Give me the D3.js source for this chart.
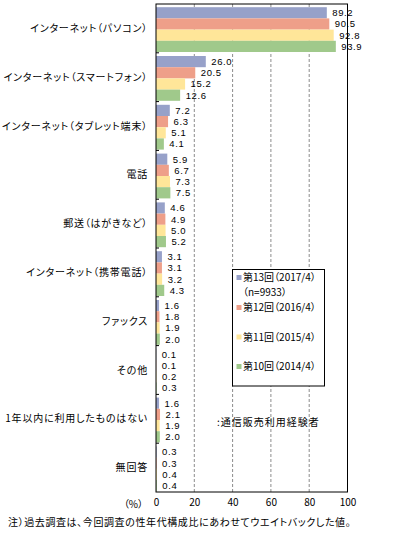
<!DOCTYPE html>
<html>
<head>
<meta charset="utf-8">
<script src="https://cdn.jsdelivr.net/npm/d3@7"></script>
<style>
  body { margin: 0; background: #fff; }
  svg text { font-family: "Noto Sans CJK JP", sans-serif; font-size: 10px; fill: #000; font-feature-settings: "palt"; }
  svg text.val { font-family: "Liberation Sans", Arial, sans-serif; font-size: 9.5px; letter-spacing: 0.6px; }
</style>
</head>
<body>
<div id="chart"></div>
<script>
const categories = [
  "インターネット（パソコン）",
  "インターネット（スマートフォン）",
  "インターネット（タブレット端末）",
  "電話",
  "郵送（はがきなど）",
  "インターネット（携帯電話）",
  "ファックス",
  "その他",
  "1年以内に利用したものはない",
  "無回答"
];
const seriesNames = ["第13回（2017/4）", "第12回（2016/4）", "第11回（2015/4）", "第10回（2014/4）"];
const seriesColors = ["#97a1c9", "#ee9f89", "#ffe699", "#a0c98b"];
const round13 = [89.2, 26.0, 7.2, 5.9, 4.6, 3.1, 1.6, 0.1, 1.6, 0.3];
const round12 = [90.5, 20.5, 6.3, 6.7, 4.9, 3.1, 1.8, 0.1, 2.1, 0.3];
const round11 = [92.8, 15.2, 5.1, 7.3, 5.0, 3.2, 1.9, 0.2, 1.9, 0.4];
const round10 = [93.9, 12.6, 4.1, 7.5, 5.2, 4.3, 2.0, 0.3, 2.0, 0.4];
const xTicks = [0, 20, 40, 60, 80, 100];

const seriesValues = [round13, round12, round11, round10];

const width = 398, height = 537;
const plot = { left: 156, right: 347.5, top: 4, bottom: 492 };

const svg = d3.select("#chart").append("svg")
  .attr("width", width)
  .attr("height", height);

const x = d3.scaleLinear().domain([0, 100]).range([plot.left, plot.right]);
const y = d3.scaleBand().domain(categories).range([plot.top, plot.bottom]).padding(0);
const bw = y.bandwidth();
const ySeries = d3.scaleBand().domain(d3.range(4)).range([3.2, bw - 0.8]).padding(0);

// gridlines
svg.append("g")
  .selectAll("line")
  .data(xTicks.filter(d => d > 0 && d < 100))
  .enter().append("line")
  .attr("x1", d => x(d)).attr("x2", d => x(d))
  .attr("y1", plot.top).attr("y2", plot.bottom)
  .attr("stroke", "#8c8c8c")
  .attr("stroke-dasharray", "3,2");

// bars
const rows = [];
categories.forEach((c, ci) => {
  seriesValues.forEach((vals, si) => {
    rows.push({ cat: c, s: si, v: vals[ci] });
  });
});

const g = svg.append("g");
g.selectAll("rect")
  .data(rows)
  .enter().append("rect")
  .attr("x", x(0))
  .attr("y", d => y(d.cat) + ySeries(d.s))
  .attr("width", d => x(d.v) - x(0))
  .attr("height", ySeries.bandwidth())
  .attr("fill", d => seriesColors[d.s]);

g.selectAll("text.val")
  .data(rows)
  .enter().append("text")
  .attr("class", "val")
  .attr("x", d => x(d.v) + 5.5)
  .attr("y", d => y(d.cat) + ySeries(d.s) + ySeries.bandwidth() / 2)
  .attr("dy", "0.35em")
  .text(d => d3.format(".1f")(d.v));

// frame
svg.append("rect")
  .attr("x", plot.left).attr("y", plot.top)
  .attr("width", plot.right - plot.left).attr("height", plot.bottom - plot.top)
  .attr("fill", "none").attr("stroke", "#000");

// category ticks (group boundaries)
svg.append("g")
  .selectAll("line")
  .data(categories.slice(1))
  .enter().append("line")
  .attr("x1", plot.left).attr("x2", plot.left + 3)
  .attr("y1", d => y(d)).attr("y2", d => y(d))
  .attr("stroke", "#000");

// category labels
svg.append("g")
  .selectAll("text")
  .data(categories)
  .enter().append("text")
  .attr("x", plot.left - 8)
  .attr("y", d => y(d) + bw / 2)
  .attr("dy", "0.35em")
  .attr("text-anchor", "end")
  .style("letter-spacing", "0.8px")
  .text(d => d);

// x axis labels
const xAxis = d3.axisBottom(x).tickValues(xTicks).tickSize(0).tickPadding(7);
const ax = svg.append("g")
  .attr("transform", `translate(0,${plot.bottom})`)
  .call(xAxis);
ax.select(".domain").remove();
ax.selectAll("text").style("font-size", "10px").style("font-family", "'Noto Sans CJK JP', sans-serif");

svg.append("text")
  .attr("x", 143).attr("y", 504)
  .attr("dy", "0.35em")
  .attr("text-anchor", "end")
  .text("（%）");

// legend
const legend = svg.append("g");
legend.append("rect")
  .attr("x", 232.5).attr("y", 269.5)
  .attr("width", 92).attr("height", 116.5)
  .attr("fill", "#fff").attr("stroke", "#000");

const legendY = [277.5, 307.5, 337, 366.5];
seriesNames.forEach((n, i) => {
  legend.append("rect")
    .attr("x", 236.5).attr("y", legendY[i] - 2.5)
    .attr("width", 5).attr("height", 5)
    .attr("fill", seriesColors[i]);
  legend.append("text")
    .attr("x", 243).attr("y", legendY[i])
    .attr("dy", "0.35em")
    .text(n);
});
legend.append("text")
  .attr("x", 243).attr("y", 292.5)
  .attr("dy", "0.35em")
  .text("（n=9933）");

svg.append("text")
  .attr("x", 217).attr("y", 422)
  .attr("dy", "0.35em")
  .style("letter-spacing", "1px")
  .text(":通信販売利用経験者");

svg.append("text")
  .attr("x", 8).attr("y", 522)
  .attr("dy", "0.35em")
  .style("letter-spacing", "0.6px")
  .text("注）過去調査は、今回調査の性年代構成比にあわせてウエイトバックした値。");
</script>
</body>
</html>
